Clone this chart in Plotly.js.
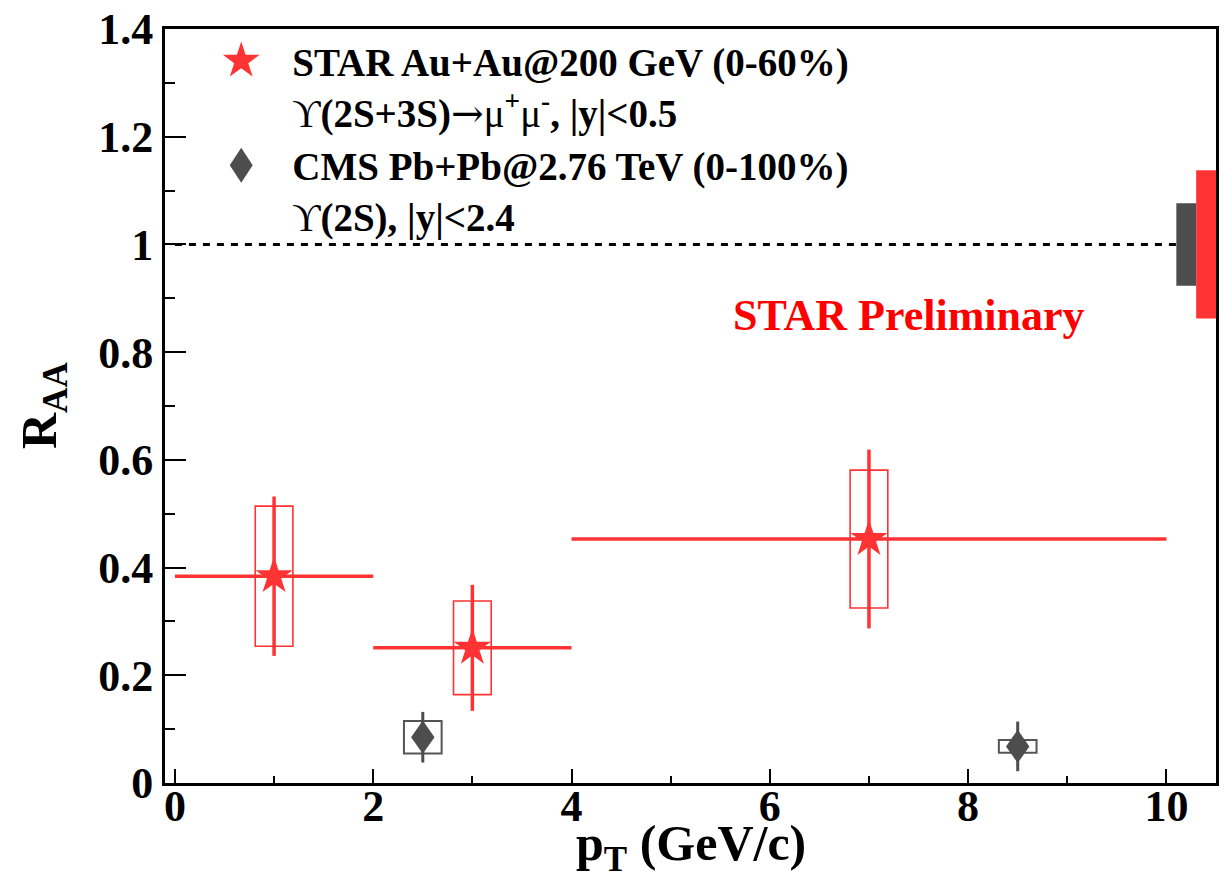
<!DOCTYPE html>
<html>
<head>
<meta charset="utf-8">
<script src="https://cdn.plot.ly/plotly-3.0.1.min.js"></script>
<style>
  html, body { margin: 0; padding: 0; background: #ffffff; }
  #plot { width: 1232px; height: 896px; }
</style>
</head>
<body>
<div id="plot"></div>
<script>
// ---------------- data ----------------
const starPt      = [1, 3, 7];
const starPtLow   = [0, 2, 4];
const starPtHigh  = [2, 4, 10];
const starRaa     = [0.384, 0.251, 0.453];
const starStat    = [0.148, 0.117, 0.166];
const starSys     = [0.130, 0.087, 0.128];

const cmsPt       = [2.5, 8.5];
const cmsRaa      = [0.085, 0.068];
const cmsStat     = [0.047, 0.046];
const cmsSys      = [0.030, 0.012];

const globalUncStar = 0.1375;
const globalUncCms  = 0.0765;
const refLevel      = 1;

const xTicks = [0, 2, 4, 6, 8, 10];
const yTicks = [0, 0.2, 0.4, 0.6, 0.8, 1, 1.2, 1.4];

const ARROW = '<span style="font-family:DejaVu Serif;font-weight:normal">→</span>';
const legendStar = '<b>STAR Au+Au@200 GeV (0-60%)</b><br>ϒ<b>(2S+3S)</b>' + ARROW +
                   'μ<sup><b>+</b></sup>μ<sup><b>-</b></sup><b>, |y|&lt;0.5</b>';
const legendCms  = '<b>CMS Pb+Pb@2.76 TeV (0-100%)</b><br>ϒ<b>(2S), |y|&lt;2.4</b>';

// ---------------- style ----------------
const RED = '#ff3333';
const GRAY = '#4d4d4d';
const BOXGRAY = '#555555';
const FONT = 'Liberation Serif, Times New Roman, serif';
const BOX_HW = 0.19;
const X_RANGE = [-0.1, 10.5];

const traces = [
  {
    type: 'scatter', mode: 'markers', name: legendStar,
    x: starPt, y: starRaa,
    marker: { symbol: 'star', size: 28, color: RED, line: { width: 0 } },
    error_y: { type: 'data', array: starStat, symmetric: true, color: RED, thickness: 3.5, width: 0 },
    error_x: { type: 'data', array: starPtHigh.map((h, i) => h - starPt[i]),
               arrayminus: starPtLow.map((l, i) => starPt[i] - l),
               symmetric: false, color: RED, thickness: 3.5, width: 0 },
    cliponaxis: false
  },
  {
    type: 'scatter', mode: 'markers', name: legendCms,
    x: cmsPt, y: cmsRaa,
    marker: { symbol: 'diamond', size: 18, color: GRAY, line: { width: 0 } },
    error_y: { type: 'data', array: cmsStat, symmetric: true, color: GRAY, thickness: 3, width: 0 },
    cliponaxis: false
  }
];

const shapes = [];
// reference line at 1
shapes.push({ type: 'line', xref: 'x', yref: 'y', x0: 0, x1: X_RANGE[1], y0: refLevel, y1: refLevel,
              line: { color: 'black', width: 3, dash: '7px,7px' }, layer: 'below' });
// systematic boxes
starPt.forEach((x, i) => shapes.push({
  type: 'rect', xref: 'x', yref: 'y', x0: x - BOX_HW, x1: x + BOX_HW,
  y0: starRaa[i] - starSys[i], y1: starRaa[i] + starSys[i],
  line: { color: RED, width: 1.6 }, fillcolor: 'rgba(0,0,0,0)', layer: 'below' }));
cmsPt.forEach((x, i) => shapes.push({
  type: 'rect', xref: 'x', yref: 'y', x0: x - BOX_HW, x1: x + BOX_HW,
  y0: cmsRaa[i] - cmsSys[i], y1: cmsRaa[i] + cmsSys[i],
  line: { color: BOXGRAY, width: 2 }, fillcolor: 'rgba(0,0,0,0)', layer: 'below' }));
// global uncertainty boxes
shapes.push({ type: 'rect', xref: 'x', yref: 'y', x0: 10.1, x1: 10.3,
              y0: refLevel - globalUncCms, y1: refLevel + globalUncCms,
              line: { width: 0 }, fillcolor: GRAY, layer: 'above' });
shapes.push({ type: 'rect', xref: 'x', yref: 'y', x0: 10.3, x1: X_RANGE[1],
              y0: refLevel - globalUncStar, y1: refLevel + globalUncStar,
              line: { width: 0 }, fillcolor: RED, layer: 'above' });

const layout = {
  width: 1232, height: 896,
  margin: { l: 165, r: 16, t: 29, b: 113, pad: 0 },
  paper_bgcolor: '#ffffff', plot_bgcolor: '#ffffff',
  showlegend: true,
  legend: {
    x: 0.024, y: 1.0, xanchor: 'left', yanchor: 'top',
    bgcolor: 'rgba(0,0,0,0)', borderwidth: 0,
    font: { family: FONT, size: 39, color: 'black' },
    itemwidth: 92, valign: 'top', tracegroupgap: 0
  },
  xaxis: {
    range: X_RANGE, tickvals: xTicks, ticktext: xTicks.map(String),
    ticks: 'inside', ticklen: 14, tickwidth: 2, tickcolor: 'black',
    ticklabelstandoff: -18,
    minor: { ticks: 'inside', dtick: 1, ticklen: 7, tickwidth: 2, tickcolor: 'black' },
    showline: true, linewidth: 3, linecolor: 'black', mirror: true,
    showgrid: false, zeroline: false,
    tickfont: { family: FONT, size: 44, color: 'black', weight: 'bold' }
  },
  yaxis: {
    range: [0, 1.4], tickvals: yTicks, ticktext: yTicks.map(String),
    ticks: 'inside', ticklen: 21, tickwidth: 2, tickcolor: 'black',
    minor: { ticks: 'inside', dtick: 0.1, ticklen: 10, tickwidth: 2, tickcolor: 'black' },
    showline: true, linewidth: 3, linecolor: 'black', mirror: true,
    showgrid: false, zeroline: false,
    tickfont: { family: FONT, size: 44, color: 'black', weight: 'bold' }
  },
  shapes: shapes,
  annotations: [
    { text: '<b>STAR Preliminary</b>', xref: 'paper', yref: 'paper', x: 0.708, y: 0.62,
      xanchor: 'center', yanchor: 'middle', showarrow: false,
      font: { family: FONT, size: 44, color: '#ff0000' } },
    { text: '<b>p<sub>T</sub> (GeV/c)</b>', xref: 'paper', yref: 'paper', x: 0.5, y: 0,
      xanchor: 'center', yanchor: 'top', yshift: -30, showarrow: false,
      font: { family: FONT, size: 50, color: 'black' } },
    { text: '<b>R<sub>AA</sub></b>', xref: 'paper', yref: 'paper', x: 0, y: 0.5,
      xanchor: 'center', yanchor: 'middle', xshift: -122, textangle: -90, showarrow: false,
      font: { family: FONT, size: 50, color: 'black' } }
  ]
};

Plotly.newPlot('plot', traces, layout, { staticPlot: true }).then(function (gd) {
  function appendScale(el, s) {
    const t = el.getAttribute('transform') || '';
    el.setAttribute('transform', t + ' ' + s);
  }
  // enlarge legend symbols (library caps them at 16px)
  const legendPts = gd.querySelectorAll('.legend path.scatterpts');
  legendPts.forEach(function (el, i) {
    appendScale(el, i === 0 ? 'scale(1.73)' : 'scale(1.1,1.68)');
  });
  // make the CMS diamonds tall like the reference
  const traceGroups = gd.querySelectorAll('.scatterlayer g.trace');
  if (traceGroups.length > 1) {
    traceGroups[1].querySelectorAll('path.point').forEach(function (el) {
      appendScale(el, 'scale(1,1.42)');
    });
  }
});
</script>
</body>
</html>
